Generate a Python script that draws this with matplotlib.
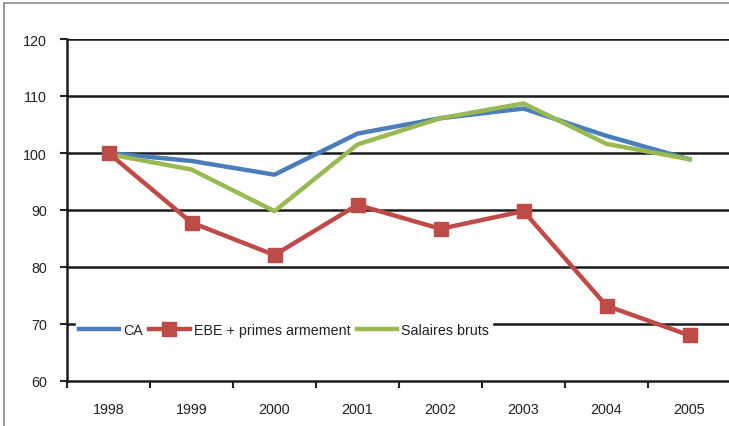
import matplotlib
matplotlib.use("Agg")
import matplotlib.pyplot as plt
from matplotlib.patches import Rectangle

years = ["1998", "1999", "2000", "2001", "2002", "2003", "2004", "2005"]
ca = [100.0, 98.6, 96.2, 103.4, 106.1, 107.8, 103.0, 98.9]
ebe = [100.0, 87.8, 82.1, 90.9, 86.7, 89.8, 73.2, 68.0]
salaires = [99.8, 97.1, 89.8, 101.5, 106.1, 108.7, 101.6, 98.9]
y_ticks = [60, 70, 80, 90, 100, 110, 120]

plt.rcParams["font.family"] = ["Liberation Sans", "DejaVu Sans"]
FS = 10.3

fig = plt.figure(figsize=(7.29, 4.27), dpi=100)
W, H = 729, 427
ax = fig.add_axes([67 / W, 45 / H, 664 / W, 342 / H])

x = [i + 0.5 for i in range(len(years))]
ax.plot(x, ca, color="#4A7EBB", linewidth=3.2, label="CA", zorder=3)
ax.plot(x, ebe, color="#BE4B48", linewidth=3.2, marker="s", markersize=10,
        label="EBE + primes armement", zorder=4)
ax.plot(x, salaires, color="#98B954", linewidth=3.2, label="Salaires bruts", zorder=3)

ax.set_xlim(0, len(years))
ax.set_ylim(60, 120)
ax.set_yticks(y_ticks)
ax.set_xticks(range(len(years) + 1))
ax.set_xticklabels([])
ax.set_xticks(x, minor=True)
ax.set_xticklabels(years, minor=True)
ax.tick_params(axis="x", which="major", direction="out", length=5, width=1.5, color="#222222")
ax.tick_params(axis="x", which="minor", length=0, pad=15, labelsize=FS, labelcolor="#222222")
ax.tick_params(axis="y", direction="out", length=5, width=1.5, color="#222222",
               pad=9.5, labelsize=FS, labelcolor="#222222")

for v in y_ticks[1:]:
    ax.axhline(v, color="#1a1a1a", linewidth=1.8, zorder=1)

for side in ("top", "right"):
    ax.spines[side].set_visible(False)
for side in ("left", "bottom"):
    ax.spines[side].set_linewidth(1.8)
    ax.spines[side].set_color("#1a1a1a")

leg = ax.legend(loc="center", bbox_to_anchor=(284 / W, 1 - 331 / H),
                bbox_transform=fig.transFigure, ncol=3, frameon=True,
                fontsize=FS, handlelength=2.8, handletextpad=0.3,
                columnspacing=0.45, borderpad=0.2, borderaxespad=0,
                numpoints=1, fancybox=False)
leg.get_frame().set_facecolor("white")
leg.get_frame().set_edgecolor("white")
leg.get_frame().set_alpha(1)
leg.set_zorder(5)
for t in leg.get_texts():
    t.set_color("#222222")

fig.patches.append(Rectangle((3.5 / W, -0.5), 2, 1.5 - 3.5 / H,
                             transform=fig.transFigure, fill=False,
                             edgecolor="#8a8a8a", linewidth=1.2))

fig.savefig("out.png", dpi=100)
